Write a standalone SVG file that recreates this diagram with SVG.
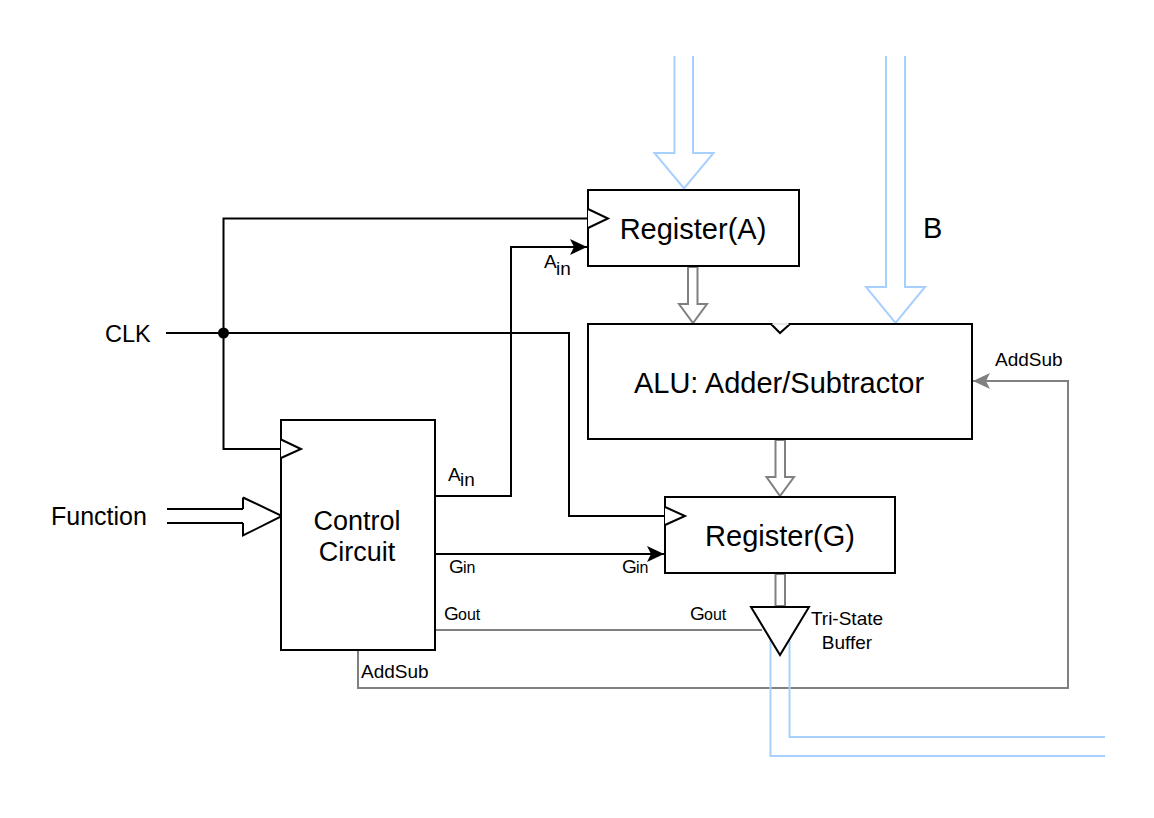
<svg xmlns="http://www.w3.org/2000/svg" width="1154" height="818" viewBox="0 0 1154 818">
<style>
text{font-family:"Liberation Sans",Arial,sans-serif;fill:#000}
.b{fill:#fff;stroke:#000;stroke-width:2}
.w{stroke:#000;stroke-width:2;fill:none}
.g{stroke:#808080;stroke-width:2;fill:none}
.ga{stroke:#808080;stroke-width:2;fill:#fff}
.bl{stroke:#a8d0ff;stroke-width:2;fill:#fff}
.bw{stroke:#a8d0ff;stroke-width:2;fill:none}
.l{font-size:19px}
.s{font-size:16px}
.m{font-size:29px;text-anchor:middle}
.c{font-size:27px;text-anchor:middle}
.n{font-size:23.500px}
</style>
<defs>
<marker id="ab" markerUnits="userSpaceOnUse" markerWidth="18" markerHeight="18" refX="17" refY="9" orient="auto"><path d="M0 1L17 9L0 17L4 9Z" fill="#000"/></marker>
<marker id="ag" markerUnits="userSpaceOnUse" markerWidth="18" markerHeight="18" refX="17" refY="9" orient="auto"><path d="M0 1L17 9L0 17L4 9Z" fill="#808080"/></marker>
</defs>
<g id="connectors">
<path class="w" d="M166 333H569V516H665"/>
<path class="w" d="M588 218.500H223.500V449H281"/>
<circle cx="223.500" cy="333" r="5.500" fill="#000"/>
<path class="w" d="M435 496H511V247H587" marker-end="url(#ab)"/>
<path class="w" d="M435 554H664" marker-end="url(#ab)"/>
<path class="g" d="M435 630H762"/>
<path class="g" d="M358 650V688H1068V381H973" marker-end="url(#ag)"/>
<path class="bw" d="M770.500 630V756H1105"/>
<path class="bw" d="M789.500 630V737H1105"/>
<path class="bl" d="M674.500 56V153H654.500L684 188.500L713.500 153H693V56"/>
<path class="bl" d="M886 56V287H866L895.500 323L925 287H905V56"/>
<path class="ga" d="M688 267V304H679L693 323L707 304H697.500V267Z"/>
<path class="ga" d="M775.500 440V477H766.500L780 496L794 477H785V440Z"/>
<path class="ga" d="M775.500 574V606H785V574Z"/>
<path class="w" d="M243 509H167M243 523H167"/>
<path class="b" d="M243 497.500L282 516L243 535.500V523M243 509V497.500"/>
</g>
<g id="register-a"><rect class="b" x="588" y="190" width="211" height="76"/><path class="b" d="M588 209L608 218.500L588 228"/><text class="m" x="693" y="239">Register(A)</text></g>
<g id="alu"><rect class="b" x="588" y="324" width="384" height="115"/><path class="b" d="M771 324L780 333L790 324"/><path d="M772.500 324H788.500" stroke="#e8e8e8" stroke-width="2"/><text class="m" x="779" y="393">ALU: Adder/Subtractor</text></g>
<g id="register-g"><rect class="b" x="665" y="497" width="230" height="76"/><path class="b" d="M665 507L685 516L665 525"/><text class="m" x="780" y="546">Register(G)</text></g>
<g id="control"><rect class="b" x="281" y="420" width="154" height="230"/><path class="b" d="M281 439.500L301 449L281 458"/><text class="c" x="357" y="530">Control</text><text class="c" x="357" y="561">Circuit</text></g>
<g id="tri-state"><path class="b" d="M751 607H809L780 655Z"/><text class="l" x="847" y="625" text-anchor="middle">Tri-State</text><text class="l" x="847" y="649" text-anchor="middle">Buffer</text></g>
<g id="labels">
<text class="n" x="105" y="342">CLK</text>
<text class="n" style="font-size:25px" x="51" y="525">Function</text>
<text class="n" style="font-size:29px" x="923" y="238">B</text>
<text class="l" x="995" y="366">AddSub</text>
<text class="l" x="361" y="678">AddSub</text>
<text class="l" x="544" y="268">A</text><text class="l" x="556" y="275">in</text>
<text class="l" x="448" y="481">A</text><text class="l" x="460" y="486">in</text>
<text class="l" x="449" y="573">G</text><text class="s" x="463" y="573">in</text>
<text class="l" x="622" y="573">G</text><text class="s" x="636" y="573">in</text>
<text class="l" x="444" y="620">G</text><text class="s" x="458" y="620">out</text>
<text class="l" x="690" y="620">G</text><text class="s" x="704" y="620">out</text>
</g>
</svg>
